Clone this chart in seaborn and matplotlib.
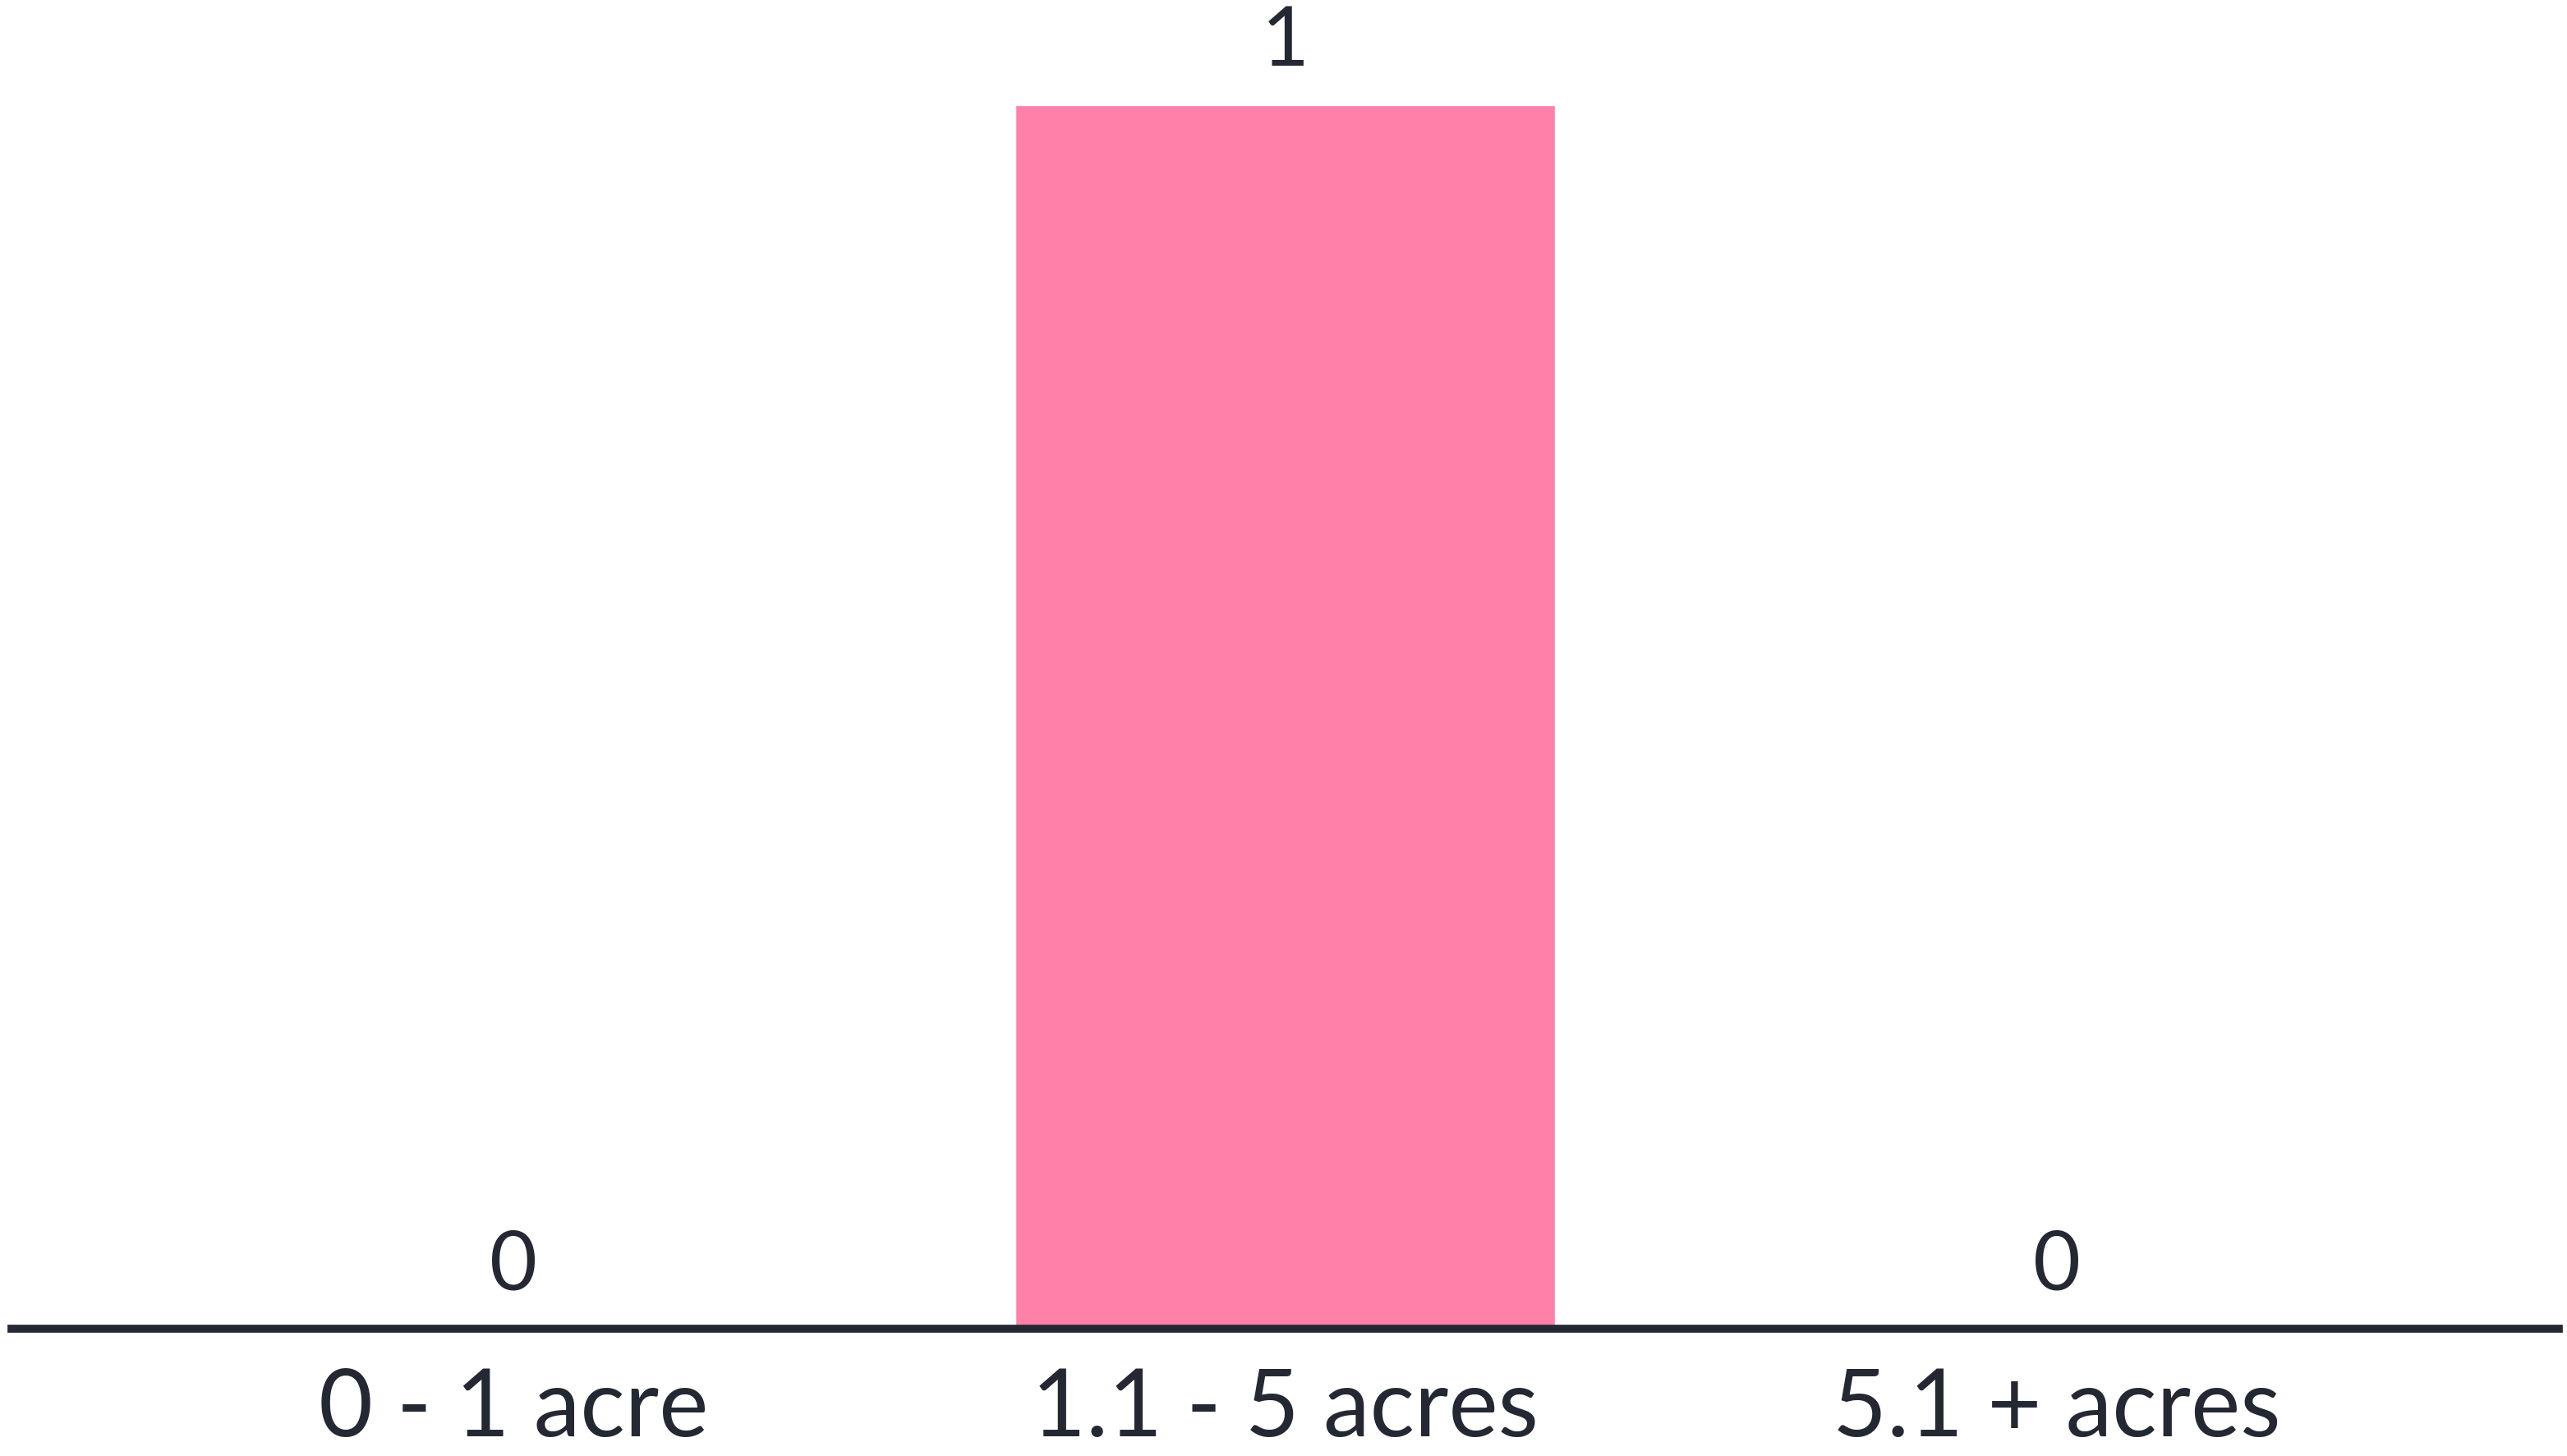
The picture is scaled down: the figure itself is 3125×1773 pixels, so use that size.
import pandas as pd
import numpy as np
import matplotlib.pyplot as plt
import seaborn as sns

sns.set_style('white')
plt.rcParams['font.family'] = ['Lato', 'DejaVu Sans']

# data
categories = ['0 - 1 acre', '1.1 - 5 acres', '5.1 + acres']
counts = [0, 1, 0]

df = pd.DataFrame({'Size': categories, 'Count': counts})

text_color = '#242833'
bar_color = '#FF80A8'

fig = plt.figure(figsize=(31.25, 17.73), dpi=100)
ax = fig.add_axes([0.0045, 0.0874, 0.9923, 0.8404])

sns.barplot(data=df, x='Size', y='Count', color=bar_color, width=0.70,
            saturation=1, ax=ax)

ax.set_xlim(-0.65, 2.65)
ax.set_ylim(0, 1)
ax.bar_label(ax.containers[0], labels=[str(c) for c in counts],
             padding=22, fontsize=72, color=text_color)

ax.set_xlabel('')
ax.set_ylabel('')
ax.set_yticks([])
ax.tick_params(axis='x', length=0, pad=34, labelsize=82, labelcolor=text_color)

for side in ['top', 'right', 'left']:
    ax.spines[side].set_visible(False)
ax.spines['bottom'].set_color(text_color)
ax.spines['bottom'].set_linewidth(7)

fig.savefig('out.png', dpi=100, facecolor='white')
